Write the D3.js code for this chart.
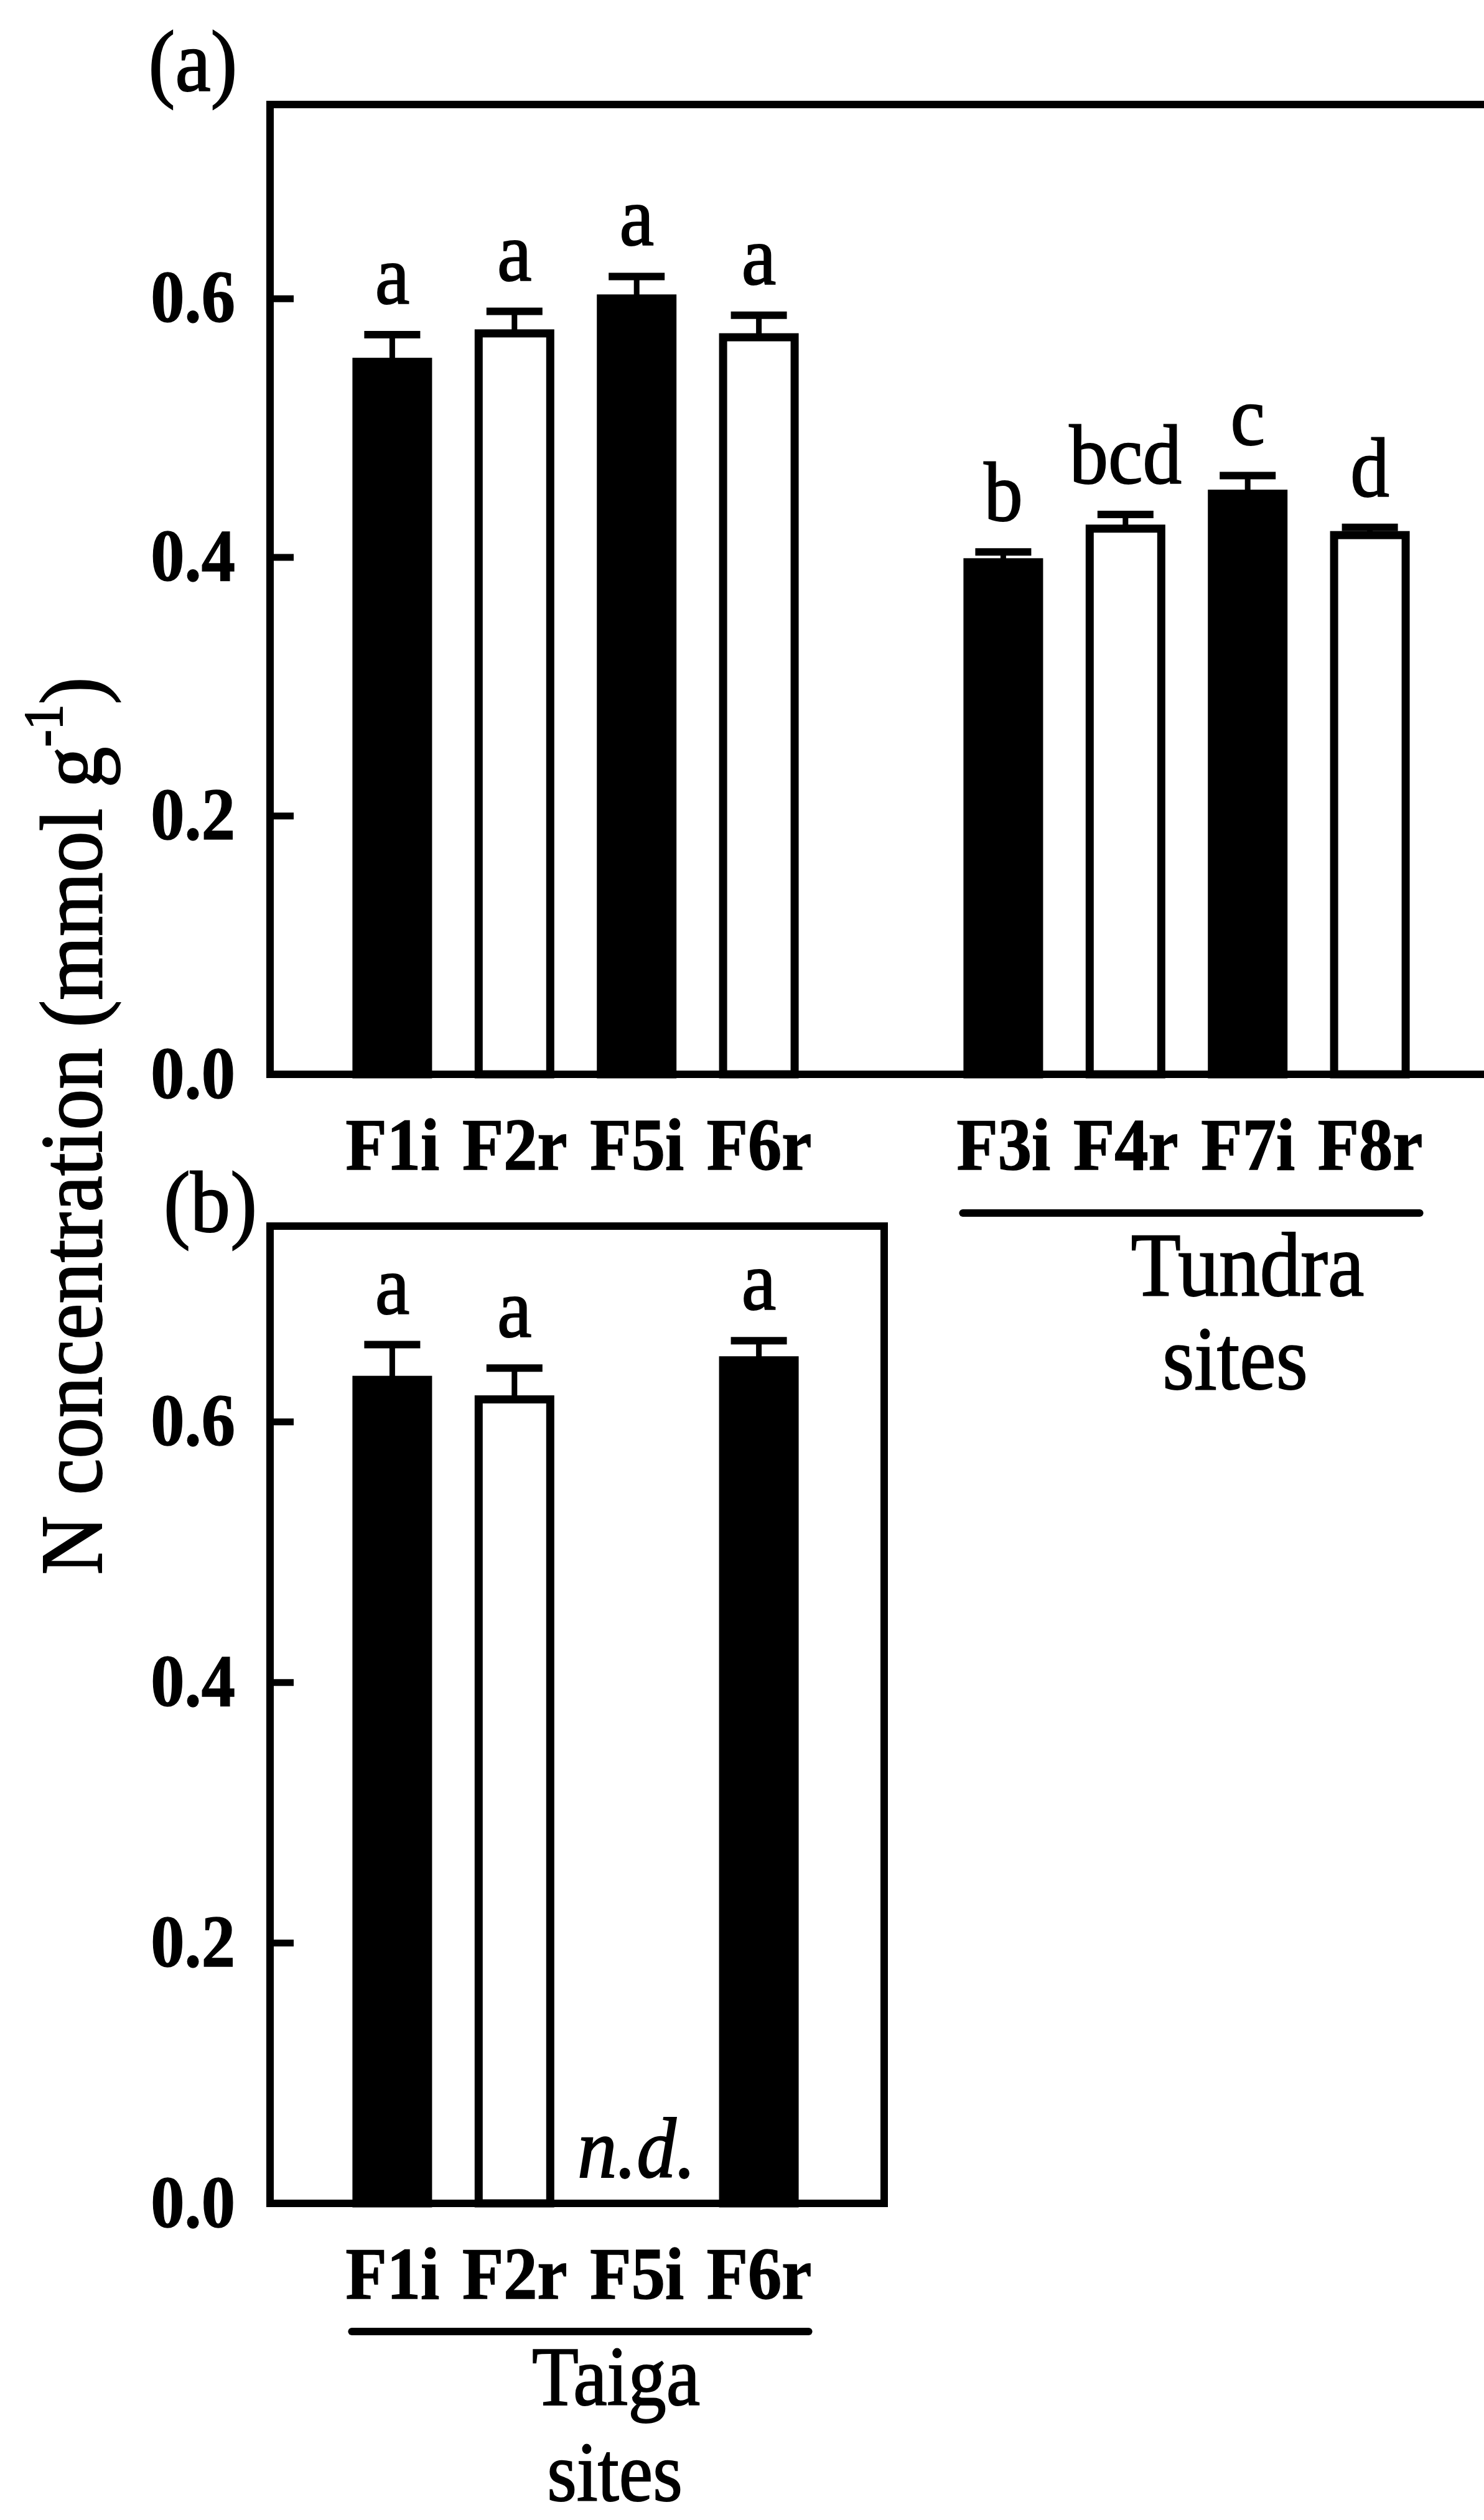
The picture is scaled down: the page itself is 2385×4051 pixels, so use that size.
<!DOCTYPE html>
<html><head><meta charset="utf-8">
<script src="https://cdn.jsdelivr.net/npm/d3@7"></script>
<style>html,body{margin:0;padding:0;background:#fff;overflow:hidden}</style>
</head><body><svg id="chart"></svg>
<script>
// ---------- data ----------
const slots = ["F1i","F2r","F5i","F6r","gap","F3i","F4r","F7i","F8r"];
const sitesA = ["F1i","F2r","F5i","F6r","F3i","F4r","F7i","F8r"];
const valuesA = [0.551,0.573,0.600,0.570,0.396,0.422,0.449,0.417];
const errorsA = [0.021,0.017,0.017,0.017,0.008,0.011,0.014,0.006];
const lettersA = ["a","a","a","a","b","bcd","c","d"];
const kindsA = ["filled","open","filled","open","filled","open","filled","open"];

const sitesB = ["F1i","F2r","F5i","F6r"];
const valuesB = [0.632,0.617,null,0.647];
const errorsB = [0.027,0.024,null,0.015];
const lettersB = ["a","a",null,"a"];
const kindsB = ["filled","open",null,"filled"];
const missingLabel = "n.d.";

const yTicks = [0,0.2,0.4,0.6];
const yMax = 0.75;
const groupTundra = ["Tundra","sites"];
const groupTaiga = ["Taiga","sites"];
const yTitle = "N concentration (mmol g";
const yTitleSup = "-1";

// ---------- layout ----------
const W = 2385, H = 4051;
const FONT = "'Liberation Serif','Times New Roman',serif";
const SX = 0.92;
const svg = d3.select("#chart").attr("width", W).attr("height", H).style("display","block");
svg.append("rect").attr("width", W).attr("height", H).attr("fill", "#fff");

const x = d3.scalePoint().domain(slots).range([434, 2398]).padding(1);
const color = d3.scaleOrdinal().domain(["filled","open"]).range(["#000","#fff"]);

function txt(parent, str, px, py, o = {}) {
  return parent.append("text")
    .attr("transform", `translate(${px},${py}) scale(${o.sx || SX},1)`)
    .attr("text-anchor", o.anchor || "middle")
    .attr("font-family", FONT)
    .attr("font-size", o.size || 136)
    .attr("font-weight", o.weight || "normal")
    .attr("font-style", o.style || "normal")
    .attr("fill", "#000")
    .attr("stroke", "#000")
    .attr("stroke-width", o.sw == null ? 2 : o.sw)
    .text(str);
}

function panel(cfg) {
  const g = svg.append("g");
  const y = d3.scaleLinear().domain([0, yMax]).range([cfg.bottom, cfg.top]);
  const left = x.range()[0];

  // bars
  cfg.sites.forEach((s, i) => {
    const v = cfg.values[i];
    const cx = x(s);
    if (v == null) {
      txt(g, missingLabel, cx, y(0) - 42, {size: 138, style: "italic"});
      return;
    }
    const e = cfg.errors[i];
    g.append("line").attr("x1", cx).attr("x2", cx).attr("y1", y(v)).attr("y2", y(v + e))
      .attr("stroke", "#000").attr("stroke-width", 9);
    g.append("line").attr("x1", cx - 45).attr("x2", cx + 45).attr("y1", y(v + e)).attr("y2", y(v + e))
      .attr("stroke", "#000").attr("stroke-width", 12);
    g.append("rect").attr("x", cx - 57.5).attr("width", 115)
      .attr("y", y(v)).attr("height", y(0) - y(v))
      .attr("fill", color(cfg.kinds[i])).attr("stroke", "#000").attr("stroke-width", 13);
    txt(g, cfg.letters[i], cx, y(v + e) - 50, {size: 136});
  });

  // frame
  g.append("rect").attr("x", left).attr("y", cfg.top)
    .attr("width", cfg.right - left).attr("height", cfg.bottom - cfg.top)
    .attr("fill", "none").attr("stroke", "#000").attr("stroke-width", 12);

  // y axis (ticks inward)
  const ya = g.append("g").attr("transform", `translate(${left},0)`)
    .call(d3.axisLeft(y).tickValues(yTicks).tickFormat(d3.format(".1f"))
      .tickSizeInner(-38).tickSizeOuter(0).tickPadding(56));
  ya.select(".domain").remove();
  ya.selectAll(".tick line").attr("stroke", "#000").attr("stroke-width", 11);
  ya.selectAll(".tick text")
    .attr("x", null).attr("dy", null)
    .attr("transform", `translate(-56,37) scale(${SX},1)`)
    .attr("font-family", FONT).attr("font-size", 118).attr("font-weight", "bold")
    .attr("fill", "#000").attr("stroke", "#000").attr("stroke-width", 1.5);

  // x axis labels
  const xa = g.append("g").attr("transform", `translate(0,${cfg.bottom})`)
    .call(d3.axisBottom(x).tickValues(cfg.sites).tickSize(0).tickPadding(0));
  xa.select(".domain").remove();
  xa.selectAll(".tick text")
    .attr("y", null).attr("dy", null)
    .attr("transform", `translate(0,153) scale(${SX},1)`)
    .attr("font-family", FONT).attr("font-size", 118).attr("font-weight", "bold")
    .attr("fill", "#000").attr("stroke", "#000").attr("stroke-width", 1.5);

  // panel letter
  txt(g, cfg.tag, cfg.tagX, cfg.tagY, {size: 140});

  // group annotation
  if (cfg.group) {
    const gr = cfg.group;
    g.append("line")
      .attr("x1", x(gr.first) - 65).attr("x2", x(gr.last) + 80)
      .attr("y1", gr.lineY).attr("y2", gr.lineY)
      .attr("stroke", "#000").attr("stroke-width", 12).attr("stroke-linecap", "round");
    txt(g, gr.label[0], gr.x1, gr.y1, {size: gr.size, sx: 0.9});
    txt(g, gr.label[1], gr.x2, gr.y2, {size: gr.size, sx: 0.9});
  }
}

panel({
  sites: sitesA, values: valuesA, errors: errorsA, letters: lettersA, kinds: kindsA,
  top: 168, bottom: 1727, right: 2398, tag: "(a)", tagX: 310, tagY: 146,
  group: {label: groupTundra, first: "F3i", last: "F8r", lineY: 1950, size: 146,
          x1: 2005, y1: 2083, x2: 1985, y2: 2233}
});
panel({
  sites: sitesB, values: valuesB, errors: errorsB, letters: lettersB, kinds: kindsB,
  top: 1971, bottom: 3542, right: 1421, tag: "(b)", tagX: 338, tagY: 1980,
  group: {label: groupTaiga, first: "F1i", last: "F6r", lineY: 3748, size: 136,
          x1: 990, y1: 3866, x2: 988, y2: 4020}
});

// y-axis title
const tg = svg.append("g").attr("transform", "translate(163,1810) rotate(-90)");
const tt = tg.append("text")
  .attr("transform", "scale(0.93,1)")
  .attr("text-anchor", "middle")
  .attr("font-family", FONT).attr("font-size", 142)
  .attr("fill", "#000").attr("stroke", "#000").attr("stroke-width", 2);
tt.append("tspan").text(yTitle);
tt.append("tspan").attr("font-size", 88).attr("dy", -64).text(yTitleSup);
tt.append("tspan").attr("dy", 64).text(")");
</script>
</body></html>
